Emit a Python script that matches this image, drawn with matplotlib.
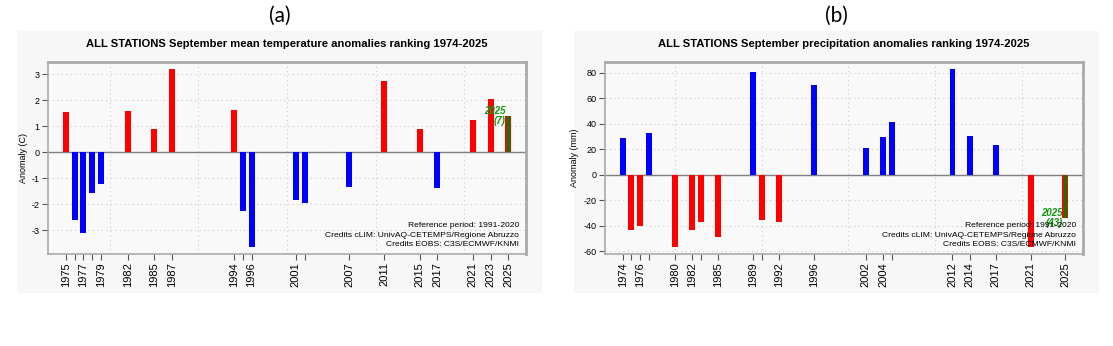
import matplotlib
matplotlib.use("Agg")
import matplotlib.pyplot as plt
from matplotlib.patches import Rectangle

plt.rcParams['font.family'] = ['Liberation Sans', 'DejaVu Sans']

# September mean temperature anomalies (C), 10 warmest + 10 coldest years
temp_years = [1975, 1976, 1977, 1978, 1979, 1982, 1985, 1987, 1994, 1995,
              1996, 2001, 2002, 2007, 2011, 2015, 2017, 2021, 2023, 2025]
temp_vals = [1.54, -2.59, -3.09, -1.58, -1.23, 1.60, 0.92, 3.21, 1.65, -2.27,
             -3.64, -1.85, -1.94, -1.32, 2.74, 0.90, -1.36, 1.24, 2.05, 1.40]
temp_labels = ['1975', '', '1977', '', '1979', '1982', '1985', '1987', '1994', '',
               '1996', '2001', '', '2007', '2011', '2015', '2017', '2021', '2023', '2025']
temp_rank = 7

# September precipitation anomalies (mm), 10 wettest + 10 driest years
prec_years = [1974, 1975, 1976, 1977, 1980, 1982, 1983, 1985, 1989, 1990,
              1992, 1996, 2002, 2004, 2005, 2012, 2014, 2017, 2021, 2025]
prec_vals = [28.5, -43.1, -40.3, 32.4, -56.7, -43.1, -36.9, -49.2, 80.3, -35.3,
             -37.4, 70.3, 20.7, 29.3, 41.6, 82.9, 30.3, 23.3, -56.5, -34.2]
prec_labels = ['1974', '', '1976', '', '1980', '1982', '', '1985', '1989', '',
               '1992', '1996', '2002', '2004', '', '2012', '2014', '2017', '2021', '2025']
prec_rank = 43

W, H = 1113, 346
fig = plt.figure(figsize=(W / 100, H / 100), dpi=100)
fig.patch.set_facecolor('white')

def px_rect(x0, y0, x1, y1):
    return [x0 / W, 1 - y1 / H, (x1 - x0) / W, (y1 - y0) / H]

def panel(bg, box, years, vals, labels, rank, title, ylabel, yticks, xlim, ylim,
          pos_color, neg_color, letter):
    fig.patches.append(Rectangle((bg[0], bg[1]), bg[2], bg[3], transform=fig.transFigure,
                                 facecolor='#f7f7f7', edgecolor='none', zorder=-10))
    fig.text(bg[0] + bg[2] / 2, 1 - 16 / H, letter, ha='center', va='center',
             fontsize=15, family=['Lato', 'DejaVu Sans'])
    ax = fig.add_axes(box)
    ax.set_facecolor('#f9f9f9')
    colors = [pos_color if v > 0 else neg_color for v in vals]
    ax.bar(years, vals, width=0.68, color=colors, zorder=3)
    # current year highlighted
    ax.bar(years[-1], vals[-1], width=0.34, color='#008000', zorder=4)
    ax.text(years[-1] - 0.3, vals[-1], f"{years[-1]}\n({rank})", ha='right', va='center',
            color='#119911', fontsize=7, fontweight='bold', fontstyle='italic',
            linespacing=1.05, zorder=5)
    ax.axhline(0, color='#808080', lw=1, zorder=2)
    ax.set_xlim(*xlim)
    ax.set_ylim(*ylim)
    ax.set_xticks(years)
    ax.set_xticklabels(labels, rotation=90, fontsize=8)
    ax.set_yticks(yticks)
    ax.set_yticklabels([str(t) for t in yticks], fontsize=6.5)
    ax.tick_params(axis='both', direction='out', length=4, width=0.8, color='#555555', pad=2)
    for y in yticks:
        ax.axhline(y, color='#cccccc', lw=0.8, ls=(0, (1, 3)), zorder=1)
    for x in range(1980, 2030, 10):
        ax.axvline(x, color='#cccccc', lw=0.8, ls=(0, (1, 3)), zorder=1)
    for s in ax.spines.values():
        s.set_color('#aaaaaa')
        s.set_linewidth(1.2)
    ax.spines['right'].set_linewidth(2)
    ax.spines['top'].set_linewidth(2)
    ax.set_ylabel(ylabel, fontsize=6.5, labelpad=3)
    ax.set_title(title, fontsize=8.1, fontweight='bold', pad=11)
    ax.text(0.985, 0.165, "Reference period: 1991-2020\nCredits cLIM: UnivAQ-CETEMPS/Regione Abruzzo\n"
            "Credits EOBS: C3S/ECMWF/KNMI", transform=ax.transAxes, ha='right', va='top',
            fontsize=6.1, linespacing=1.5, zorder=6)
    return ax

panel(px_rect(17, 31, 542, 293), px_rect(48, 62, 526, 254),
      temp_years, temp_vals, temp_labels, temp_rank,
      "ALL STATIONS September mean temperature anomalies ranking 1974-2025",
      "Anomaly (C)", [-3, -2, -1, 0, 1, 2, 3], (1973, 2027), (-3.91, 3.48),
      'red', 'blue', '(a)')

panel(px_rect(574, 31, 1099, 293), px_rect(605, 62, 1083, 254),
      prec_years, prec_vals, prec_labels, prec_rank,
      "ALL STATIONS September precipitation anomalies ranking 1974-2025",
      "Anomaly (mm)", [-60, -40, -20, 0, 20, 40, 60, 80], (1971.96, 2027.04), (-62.3, 88.5),
      'blue', 'red', '(b)')

fig.savefig('out.png', dpi=100)
